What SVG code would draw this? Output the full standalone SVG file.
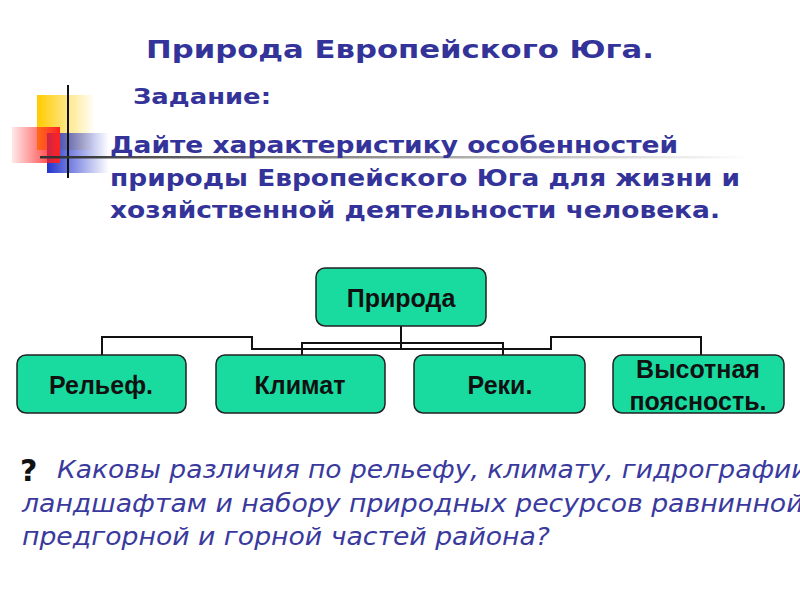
<svg xmlns="http://www.w3.org/2000/svg" width="800" height="600" viewBox="0 0 800 600">
<style>
.h{font-family:"DejaVu Sans",Verdana,sans-serif;font-weight:bold;fill:#333399}
.box{fill:#19dba0;stroke:#222;stroke-width:1.5}
.bt{font-family:"Liberation Sans",Arial,sans-serif;font-weight:bold;font-size:25px;fill:#111;text-anchor:middle}
.q{font-family:"DejaVu Sans",Verdana,sans-serif;font-style:italic;font-size:24px;fill:#3a3a9e}
.c{fill:none;stroke:#111;stroke-width:2}
</style>
<defs>
<linearGradient id="gy" x1="0" x2="1"><stop offset="0" stop-color="#ffcc00"/><stop offset="1" stop-color="#ffcc00" stop-opacity="0"/></linearGradient>
<linearGradient id="gr" x1="1" x2="0"><stop offset="0" stop-color="#ff2020"/><stop offset="1" stop-color="#ff2020" stop-opacity="0.1"/></linearGradient>
<linearGradient id="gb" x1="0" x2="1"><stop offset="0" stop-color="#2233cc"/><stop offset="1" stop-color="#2233cc" stop-opacity="0"/></linearGradient>
<linearGradient id="gl" x1="0" x2="1"><stop offset="0" stop-color="#333"/><stop offset="1" stop-color="#333" stop-opacity="0"/></linearGradient>
</defs>
<rect width="800" height="600" fill="#fff"/>
<rect x="37" y="95" width="58" height="55" fill="url(#gy)"/>
<rect x="47" y="133" width="62" height="40" fill="url(#gb)"/>
<rect x="12" y="127" width="48" height="36" fill="url(#gr)"/>
<line x1="68" y1="85" x2="68" y2="178" stroke="#111" stroke-width="2"/>
<rect x="40" y="156" width="710" height="2.5" fill="url(#gl)"/>
<text class="h" x="400" y="58" font-size="25" text-anchor="middle" textLength="508" lengthAdjust="spacingAndGlyphs">Природа Европейского Юга.</text>
<text class="h" x="133" y="104" font-size="22" textLength="138" lengthAdjust="spacingAndGlyphs">Задание:</text>
<text class="h" x="110" y="153" font-size="23" textLength="568" lengthAdjust="spacingAndGlyphs">Дайте характеристику особенностей</text>
<text class="h" x="110" y="186" font-size="23" textLength="630" lengthAdjust="spacingAndGlyphs">природы Европейского Юга для жизни и</text>
<text class="h" x="110" y="218" font-size="23" textLength="610" lengthAdjust="spacingAndGlyphs">хозяйственной деятельности человека.</text>
<g id="connectors">
<path class="c" d="M102,355V337H252V349H551V337H701V355"/>
<path class="c" d="M302,355V343H503V355"/>
<path class="c" d="M401,326V349"/>
</g>
<g id="n-priroda"><rect class="box" x="316" y="268" width="170" height="58" rx="9"/><text class="bt" x="401" y="307">Природа</text></g>
<g id="n-relief"><rect class="box" x="17" y="355" width="169" height="58" rx="9"/><text class="bt" x="101" y="394">Рельеф.</text></g>
<g id="n-klimat"><rect class="box" x="216" y="355" width="169" height="58" rx="9"/><text class="bt" x="300" y="394">Климат</text></g>
<g id="n-reki"><rect class="box" x="414" y="355" width="171" height="58" rx="9"/><text class="bt" x="500" y="394">Реки.</text></g>
<g id="n-vys"><rect class="box" x="613" y="355" width="171" height="58" rx="9"/><text class="bt" x="698" y="378">Высотная</text><text class="bt" x="698" y="410">поясность.</text></g>
<text x="20" y="481" font-family="DejaVu Sans,sans-serif" font-weight="bold" font-size="30" fill="#111">?</text>
<text class="q" x="57" y="478" textLength="760" lengthAdjust="spacingAndGlyphs">Каковы различия по рельефу, климату, гидрографии,</text>
<text class="q" x="22" y="512" textLength="790" lengthAdjust="spacingAndGlyphs">ландшафтам и набору природных ресурсов равнинной,</text>
<text class="q" x="22" y="545" textLength="528" lengthAdjust="spacingAndGlyphs">предгорной и горной частей района?</text>
</svg>
